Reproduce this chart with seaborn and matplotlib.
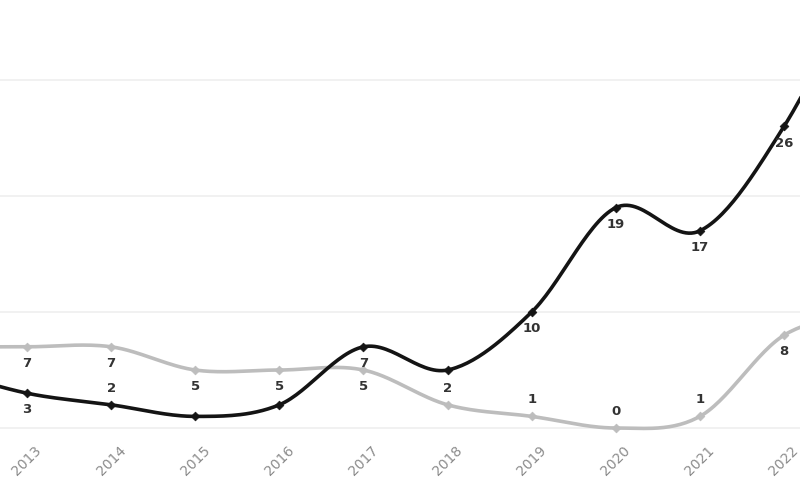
import numpy as np
import pandas as pd
import matplotlib
matplotlib.use("Agg")
import matplotlib.pyplot as plt
import seaborn as sns

# Data (2012 and 2023 lie just outside the visible crop)
years = [2012, 2013, 2014, 2015, 2016, 2017, 2018, 2019, 2020, 2021, 2022, 2023]
series_black = [5, 3, 2, 1, 2, 7, 5, 10, 19, 17, 26, 40]
series_gray = [7, 7, 7, 5, 5, 5, 2, 1, 0, 1, 8, 10]
tick_years = [2013, 2014, 2015, 2016, 2017, 2018, 2019, 2020, 2021, 2022]

# label placement: +1 above point, -1 below point
black_labels = {2013: -1, 2014: 1, 2017: -1, 2019: -1, 2020: -1, 2021: -1, 2022: -1}
gray_labels = {2013: -1, 2014: -1, 2015: -1, 2016: -1, 2017: -1, 2018: 1,
               2019: 1, 2020: 1, 2021: 1, 2022: -1}


def smooth(x, y, n=30):
    """Catmull-Rom smoothing for rendering (like a spreadsheet smoothed line)."""
    x = np.asarray(x, float)
    y = np.asarray(y, float)
    xs, ys = [], []
    for i in range(len(x) - 1):
        p0 = (x[i - 1], y[i - 1]) if i > 0 else (x[i], y[i])
        p1 = (x[i], y[i])
        p2 = (x[i + 1], y[i + 1])
        p3 = (x[i + 2], y[i + 2]) if i + 2 < len(x) else (x[i + 1], y[i + 1])
        c1 = (p1[0] + (p2[0] - p0[0]) / 6, p1[1] + (p2[1] - p0[1]) / 6)
        c2 = (p2[0] - (p3[0] - p1[0]) / 6, p2[1] - (p3[1] - p1[1]) / 6)
        t = np.linspace(0, 1, n, endpoint=False)
        bx = (1 - t) ** 3 * p1[0] + 3 * (1 - t) ** 2 * t * c1[0] + 3 * (1 - t) * t ** 2 * c2[0] + t ** 3 * p2[0]
        by = (1 - t) ** 3 * p1[1] + 3 * (1 - t) ** 2 * t * c1[1] + 3 * (1 - t) * t ** 2 * c2[1] + t ** 3 * p2[1]
        xs.extend(bx)
        ys.extend(by)
    xs.append(x[-1])
    ys.append(y[-1])
    return np.array(xs), np.array(ys)


sns.set_theme(style="white")
plt.rcParams['font.family'] = ['DejaVu Sans']

fig = plt.figure(figsize=(8, 5), dpi=100)
ax = fig.add_axes([0, 0.1324, 1, 0.8676])

BLACK = "#141414"
GRAY = "#bdbdbd"

for vals, col, z in [(series_gray, GRAY, 2), (series_black, BLACK, 3)]:
    sx, sy = smooth(years, vals)
    df = pd.DataFrame({"x": sx, "y": sy})
    sns.lineplot(data=df, x="x", y="y", ax=ax, color=col, linewidth=2.6,
                 sort=False, estimator=None, zorder=z)
    dfp = pd.DataFrame({"x": years, "y": vals})
    sns.scatterplot(data=dfp, x="x", y="y", ax=ax, color=col, marker="D", s=20,
                    edgecolor=col, linewidth=0.5, zorder=z + 0.5)

for labels, vals in [(black_labels, series_black), (gray_labels, series_gray)]:
    for yr, pos in labels.items():
        v = vals[years.index(yr)]
        ax.annotate(str(v), (yr, v), xytext=(0, 12 * pos), textcoords="offset points",
                    ha="center", va="center", fontsize=9.5, fontweight="bold",
                    color="#333333", zorder=6)

ax.set_xlim(2012.679, 2022.19)
ax.set_ylim(-0.5, 36.9)
ax.set_yticks([0, 10, 20, 30])
ax.set_yticklabels([])
ax.tick_params(axis="y", length=0)
ax.yaxis.grid(True, color="#efefef", linewidth=1.2)
ax.xaxis.grid(False)
ax.set_xticks(tick_years)
ax.set_xticklabels([str(t) for t in tick_years], rotation=45, ha="center",
                   va="top", fontsize=10, color="#8c8c8c")
ax.tick_params(axis="x", length=0, pad=7)
ax.set_xlabel("")
ax.set_ylabel("")
for s in ax.spines.values():
    s.set_visible(False)

fig.savefig("out.png", dpi=100)
